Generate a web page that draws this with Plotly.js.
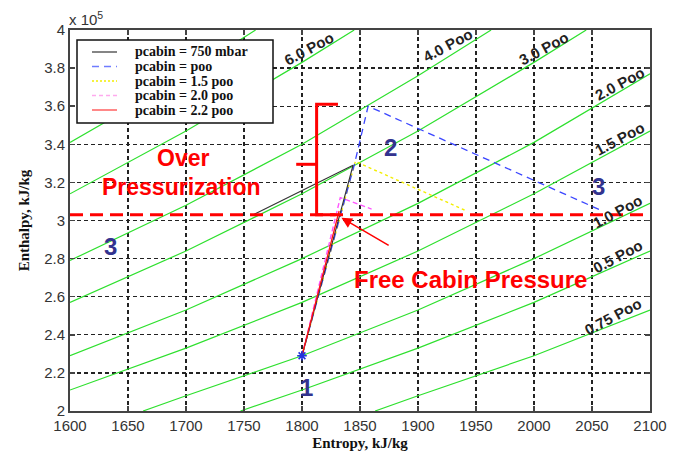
<!DOCTYPE html>
<html>
<head>
<meta charset="utf-8">
<script src="https://cdn.plot.ly/plotly-3.0.1.min.js"></script>
<style>html,body{margin:0;padding:0;background:#fff;}#chart{width:677px;height:454px;}</style>
</head>
<body>
<div id="chart"></div>
<script>
// ---- Data (entropy s, enthalpy h in units of 1e5) ----
const xTicks = [1600, 1650, 1700, 1750, 1800, 1850, 1900, 1950, 2000, 2050, 2100];
const yTicks = [2, 2.2, 2.4, 2.6, 2.8, 3, 3.2, 3.4, 3.6, 3.8, 4];
const yTickText = ['2', '2.2', '2.4', '2.6', '2.8', '3', '3.2', '3.4', '3.6', '3.8', '4'];

// process paths
const s750 = [1800, 1844, 1758];
const h750 = [2.29, 3.29, 3.03];
const sPoo = [1800, 1845, 1857, 2059];
const hPoo = [2.29, 3.29, 3.60, 3.05];
const s15 = [1800, 1846, 1942];
const h15 = [2.29, 3.31, 3.05];
const s20 = [1800, 1833, 1860];
const h20 = [2.29, 3.12, 3.06];
const s22 = [1800, 1832];
const h22 = [2.29, 3.05];
const pathNames = ['pcabin = 750 mbar', 'pcabin = poo', 'pcabin = 1.5 poo', 'pcabin = 2.0 poo', 'pcabin = 2.2 poo'];

// state 1 point
const s1 = [1800];
const h1 = [2.29];

// isobars (green)
const isoS0 = [1600, 1680, 1760];             const isoH0 = [3.41, 3.69, 4.0];
const isoS60 = [1600, 1700, 1800, 1845];       const isoH60 = [3.14, 3.47, 3.83, 4.0];
const isoS40 = [1600, 1700, 1800, 1900, 1963]; const isoH40 = [2.79, 3.08, 3.40, 3.76, 4.0];
const isoS30 = [1600, 1700, 1800, 1900, 2000, 2045]; const isoH30 = [2.57, 2.84, 3.14, 3.47, 3.83, 4.0];
const isoS20 = [1600, 1700, 1800, 1900, 2000, 2100]; const isoH20 = [2.29, 2.53, 2.80, 3.09, 3.41, 3.77];
const isoS15 = [1600, 1700, 1800, 1900, 2000, 2100]; const isoH15 = [2.11, 2.33, 2.57, 2.84, 3.14, 3.47];
const isoS10 = [1663, 1700, 1800, 1900, 2000, 2100]; const isoH10 = [2.0, 2.08, 2.29, 2.53, 2.80, 3.09];
const isoS05 = [1747, 1800, 1900, 2000, 2100];       const isoH05 = [2.0, 2.11, 2.33, 2.57, 2.84];
const isoS075 = [1863, 1900, 2000, 2100];            const isoH075 = [2.0, 2.08, 2.29, 2.53];

const isoLabels = ['6.0 Poo', '4.0 Poo', '3.0 Poo', '2.0 Poo', '1.5 Poo', '1.0 Poo', '0.5 Poo', '0.75 Poo'];
const isoLabelS = [1806, 1925, 2008, 2074, 2074, 2072, 2072, 2068];
const isoLabelH = [3.905, 3.92, 3.905, 3.72, 3.43, 3.045, 2.812, 2.497];

const stateLabels = ['1', '2', '3', '3'];
const stateS = [1804, 1876, 1634.5, 2055.4];
const stateH = [2.121, 3.383, 2.865, 3.18];

const freeCabinH = 3.03;

// ---- Geometry ----
const W = 677, H = 454, ml = 70, mr = 27, mt = 30, mb = 43;
const pw = W - ml - mr, ph = H - mt - mb;
const px2x = px => (px - ml) / pw;
const py2y = py => (H - mb - py) / ph;

// ---- Traces ----
const SANS = 'Liberation Sans, Arial, sans-serif';
const SERIF = 'Liberation Serif, Times New Roman, serif';
const green = '#2ee02e';
const isoSets = [[isoS0, isoH0], [isoS60, isoH60], [isoS40, isoH40], [isoS30, isoH30], [isoS20, isoH20],
                 [isoS15, isoH15], [isoS10, isoH10], [isoS05, isoH05], [isoS075, isoH075]];
const traces = isoSets.map(([s, h]) => ({
  x: s, y: h, mode: 'lines', type: 'scatter', showlegend: false, hoverinfo: 'skip',
  line: {color: green, width: 1.2}
}));

const pathStyles = [
  {color: '#333333', width: 1.1},
  {color: '#3b46ff', width: 1.3, dash: '7px,5px'},
  {color: '#f2ee00', width: 1.4, dash: 'dot'},
  {color: '#ff55ff', width: 1.4, dash: '5px,3px'},
  {color: '#ff1010', width: 1.3}
];
const pathData = [[s750, h750], [sPoo, hPoo], [s15, h15], [s20, h20], [s22, h22]];
const drawOrder = [2, 3, 1, 0, 4];
drawOrder.forEach(i => traces.push({x: pathData[i][0], y: pathData[i][1], name: pathNames[i],
  mode: 'lines', showlegend: false, line: pathStyles[i]}));
traces.push({x: s1, y: h1, mode: 'markers', showlegend: false,
  marker: {symbol: 'asterisk-open', size: 8, color: '#2233dd', line: {color: '#2233dd', width: 1.6}}});

// ---- Annotations ----
const annotations = [];
isoLabels.forEach((t, i) => annotations.push({
  x: isoLabelS[i], y: isoLabelH[i], xref: 'x', yref: 'y', text: t, showarrow: false,
  textangle: -28, font: {family: SANS, size: 15, color: '#222', weight: 'bold'}
}));
stateLabels.forEach((t, i) => annotations.push({
  x: stateS[i], y: stateH[i], xref: 'x', yref: 'y', text: t, showarrow: false,
  font: {family: SANS, size: 24, color: '#33338f', weight: 'bold'}
}));
annotations.push({x: 1697, y: 3.33, xref: 'x', yref: 'y', text: 'Over', showarrow: false,
  font: {family: SANS, size: 23, color: '#ff0000', weight: 'bold'}});
annotations.push({x: 1696, y: 3.175, xref: 'x', yref: 'y', text: 'Pressurization', showarrow: false,
  font: {family: SANS, size: 23, color: '#ff0000', weight: 'bold'}});
annotations.push({x: 1945, y: 2.69, xref: 'x', yref: 'y', text: 'Free Cabin Pressure', showarrow: false,
  font: {family: SANS, size: 24, color: '#ff0000', weight: 'bold'}});
annotations.push({x: 1834, y: 3.014, xref: 'x', yref: 'y', ax: 1876, ay: 2.865, axref: 'x', ayref: 'y',
  text: '', showarrow: true, arrowhead: 2, arrowsize: 1.4, arrowwidth: 1.5, arrowcolor: '#ff0000'});
annotations.push({x: px2x(67), y: py2y(19), xref: 'paper', yref: 'paper', xanchor: 'left', yanchor: 'middle',
  text: 'x 10<sup>5</sup>', showarrow: false, font: {family: SANS, size: 15, color: '#333'}});

// ---- Shapes ----
const shapes = [
  {type: 'line', xref: 'x', yref: 'y', x0: 1600, x1: 2100, y0: freeCabinH, y1: freeCabinH,
   line: {color: '#ff0000', width: 3, dash: '13px,7px'}},
  {type: 'path', xref: 'x', yref: 'y', path: 'M 1831,3.61 L 1812.6,3.61 L 1812.6,3.03 L 1829,3.03',
   line: {color: '#ff0000', width: 3}},
  {type: 'line', xref: 'x', yref: 'y', x0: 1795, x1: 1812.6, y0: 3.295, y1: 3.295,
   line: {color: '#ff0000', width: 3}}
];

// legend box (drawn manually for exact spacing)
shapes.push({type: 'rect', xref: 'paper', yref: 'paper', layer: 'above',
  x0: px2x(77), x1: px2x(273), y0: py2y(123), y1: py2y(40),
  fillcolor: '#fff', line: {color: '#111', width: 1.5}});
const legendRows = [52, 66.5, 81, 95.5, 110];
const legendLineStyles = [
  {color: '#333333', width: 1.2},
  {color: '#6f7cff', width: 1.3, dash: '7px,5px'},
  {color: '#f2ee00', width: 1.4, dash: '2px,2px'},
  {color: '#ffaaee', width: 1.4, dash: '4px,3px'},
  {color: '#ff5555', width: 1.4}
];
legendRows.forEach((py, i) => {
  shapes.push({type: 'line', xref: 'paper', yref: 'paper', layer: 'above',
    x0: px2x(92), x1: px2x(117), y0: py2y(py), y1: py2y(py), line: legendLineStyles[i]});
  annotations.push({x: px2x(133), y: py2y(py), xref: 'paper', yref: 'paper', xanchor: 'left', yanchor: 'middle',
    text: pathNames[i], showarrow: false, font: {family: SERIF, size: 14, color: '#111', weight: 'bold'}});
});

const axisCommon = {
  showline: true, linecolor: '#444', linewidth: 2, mirror: 'ticks',
  ticks: 'inside', ticklen: 5, tickcolor: '#444', tickwidth: 1.5,
  showgrid: true, gridcolor: '#222', gridwidth: 1.4, griddash: '4px,3px',
  zeroline: false, tickfont: {family: SANS, size: 15, color: '#333'}
};

const layout = {
  width: W, height: H,
  margin: {l: ml, r: mr, t: mt, b: mb, pad: 0},
  paper_bgcolor: '#fff', plot_bgcolor: '#fff',
  showlegend: false,
  xaxis: Object.assign({}, axisCommon, {range: [1600, 2100], tickvals: xTicks,
    title: {text: 'Entropy, kJ/kg', standoff: 4, font: {family: SERIF, size: 15, color: '#111', weight: 'bold'}}}),
  yaxis: Object.assign({}, axisCommon, {range: [2, 4], tickvals: yTicks, ticktext: yTickText,
    title: {text: 'Enthalpy, kJ/kg', standoff: 11, font: {family: SERIF, size: 15, color: '#111', weight: 'bold'}}}),
  annotations: annotations,
  shapes: shapes
};

Plotly.newPlot('chart', traces, layout, {displayModeBar: false, staticPlot: true});
</script>
</body>
</html>
